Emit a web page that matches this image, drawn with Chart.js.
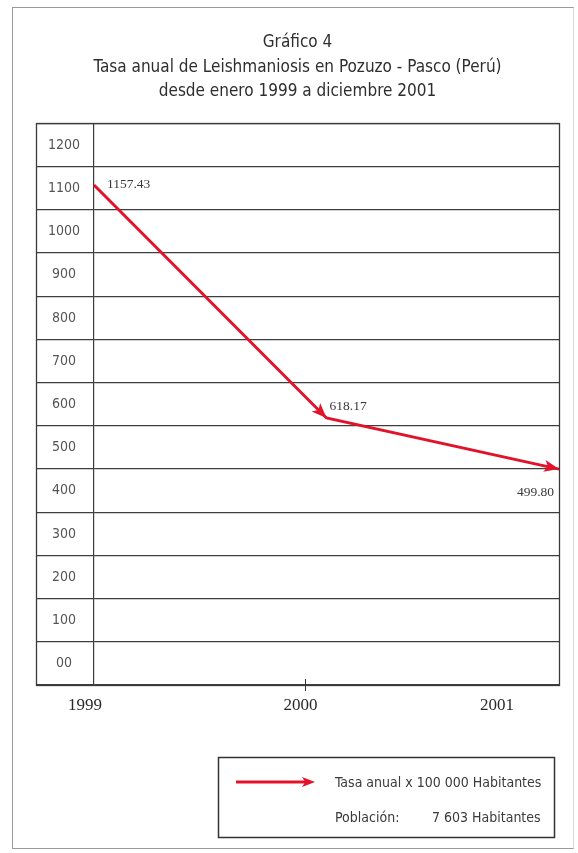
<!DOCTYPE html>
<html>
<head>
<meta charset="utf-8">
<script src="https://cdn.jsdelivr.net/npm/chart.js@4.4.1/dist/chart.umd.min.js"></script>
<style>
  html, body { margin: 0; padding: 0; background: #fff; }
  #wrap { position: relative; width: 578px; height: 853px; }
  #frame { position: absolute; left: 12px; top: 7px; width: 562px; height: 842px;
           border: 1px solid #9a9a9a; border-right-color: #d8d8d8; box-sizing: border-box; }
  canvas { position: absolute; left: 0; top: 0; }
</style>
</head>
<body>
<div id="wrap">
  <div id="frame"></div>
  <canvas id="grafico" width="578" height="853"></canvas>
</div>
<script>
// Tasa anual de leishmaniosis, Pozuzo - Pasco
const years = [1999, 2000, 2001];
const tasa = [1157.43, 618.17, 499.80];
const yearLabels = ['1999', '2000', '2001'];
const yMax = 1300;
const yStep = 100;
const titleLines = [
  'Gráfico 4',
  'Tasa anual de Leishmaniosis en Pozuzo - Pasco (Perú)',
  'desde enero 1999 a diciembre 2001'
];
const serieLabel = 'Tasa anual x 100 000 Habitantes';
const poblacionLabel = 'Población:';
const poblacionValor = '7 603 Habitantes';

const RED = '#e3122b';
const INK = '#3a3a3a';
const NARROW = "'Liberation Sans Narrow', 'DejaVu Sans Condensed', 'Roboto Condensed', 'Liberation Sans', sans-serif";
const SERIF = "'Liberation Serif', 'DejaVu Serif', serif";

// where each value label sits relative to its point
const valueLabelPos = [
  { dx: 13, dy: -1, align: 'left' },
  { dx: 3, dy: -12, align: 'left' },
  { dx: -5, dy: 23, align: 'right' }
];
// horizontal shift of the year labels under the axis
const yearShift = [-9, -26, -62];

function arrowHead(ctx, x0, y0, x1, y1, len, half) {
  const a = Math.atan2(y1 - y0, x1 - x0);
  ctx.save();
  ctx.translate(x1, y1);
  ctx.rotate(a);
  ctx.beginPath();
  ctx.moveTo(0, 0);
  ctx.lineTo(-len, -half);
  ctx.lineTo(-len * 0.75, 0);
  ctx.lineTo(-len, half);
  ctx.closePath();
  ctx.fill();
  ctx.restore();
}

const decorations = {
  id: 'decorations',
  afterDatasetsDraw(chart) {
    const { ctx, chartArea: area, scales: { x, y } } = chart;
    const pts = chart.getDatasetMeta(0).data;

    // table frame: label column + plot area
    ctx.save();
    ctx.strokeStyle = '#3a3a3a';
    ctx.lineWidth = 1.3;
    ctx.strokeRect(Math.round(y.left) + 0.5, Math.round(area.top) + 0.5,
      Math.round(area.right - y.left), Math.round(area.bottom - area.top));
    ctx.restore();

    // arrow heads at the end of every segment
    ctx.save();
    ctx.fillStyle = RED;
    for (let i = 1; i < pts.length; i++) {
      arrowHead(ctx, pts[i - 1].x, pts[i - 1].y, pts[i].x, pts[i].y, 15, 6);
    }
    ctx.restore();

    // value labels
    ctx.save();
    ctx.font = '13.5px ' + SERIF;
    ctx.fillStyle = INK;
    ctx.textBaseline = 'middle';
    pts.forEach((p, i) => {
      const pos = valueLabelPos[i];
      ctx.textAlign = pos.align;
      ctx.fillText(tasa[i].toFixed(2), p.x + pos.dx, p.y + pos.dy);
    });
    ctx.restore();

    // year labels and the small tick under 2000
    ctx.save();
    ctx.font = '17px ' + SERIF;
    ctx.fillStyle = '#2a2a2a';
    ctx.textAlign = 'center';
    ctx.textBaseline = 'middle';
    years.forEach((yr, i) => {
      const px = x.getPixelForValue(yr) + yearShift[i];
      ctx.fillText(yearLabels[i], px, area.bottom + 21);
      if (i > 0 && i < years.length - 1) {
        ctx.strokeStyle = '#333';
        ctx.lineWidth = 1;
        ctx.beginPath();
        ctx.moveTo(Math.round(px) + 4.5, area.bottom - 6);
        ctx.lineTo(Math.round(px) + 4.5, area.bottom + 6);
        ctx.stroke();
      }
    });
    ctx.restore();
  },
  afterDraw(chart) {
    // legend box
    const { ctx } = chart;
    const ds = chart.data.datasets[0];
    ctx.save();
    ctx.strokeStyle = '#333';
    ctx.lineWidth = 1.5;
    ctx.strokeRect(218.5, 757.5, 336, 80);
    ctx.strokeStyle = ds.borderColor;
    ctx.fillStyle = ds.borderColor;
    ctx.lineWidth = 3;
    ctx.beginPath();
    ctx.moveTo(236, 782);
    ctx.lineTo(306, 782);
    ctx.stroke();
    arrowHead(ctx, 236, 782, 315, 782, 13, 5);
    ctx.font = '14px ' + NARROW;
    ctx.fillStyle = INK;
    ctx.textAlign = 'left';
    ctx.textBaseline = 'middle';
    ctx.fillText(ds.label, 335, 783);
    ctx.fillText(poblacionLabel, 335, 818);
    ctx.fillText(poblacionValor, 432, 818);
    ctx.restore();
  }
};

new Chart(document.getElementById('grafico'), {
  type: 'line',
  data: {
    datasets: [{
      label: serieLabel,
      data: years.map((yr, i) => ({ x: yr, y: tasa[i] })),
      borderColor: RED,
      borderWidth: 3,
      pointRadius: 0,
      tension: 0,
      clip: false
    }]
  },
  options: {
    responsive: false,
    animation: false,
    events: [],
    layout: { padding: { left: 36, right: 19, top: 0, bottom: 168 } },
    plugins: {
      legend: { display: false },
      tooltip: { enabled: false },
      title: {
        display: true,
        text: titleLines,
        color: '#2e2e2e',
        font: { family: NARROW, size: 17, weight: 'normal', lineHeight: 1.42 },
        padding: { top: 31, bottom: 20 }
      }
    },
    scales: {
      x: {
        type: 'linear',
        min: years[0],
        max: years[years.length - 1],
        grid: { display: false },
        border: { display: false },
        ticks: { display: false },
        afterFit: s => { s.height = 0; }
      },
      y: {
        min: 0,
        max: yMax,
        grid: { color: '#3e3e3e', lineWidth: 1.2, drawTicks: true, tickLength: 58, tickColor: '#3e3e3e' },
        border: { color: '#3a3a3a', width: 1.2 },
        ticks: {
          stepSize: yStep,
          autoSkip: false,
          color: '#555',
          font: { family: NARROW, size: 14 },
          crossAlign: 'center',
          padding: -44,
          labelOffset: -21.5,
          callback: v => v >= yMax ? '' : (v === 0 ? '00' : String(v))
        },
        afterFit: s => { s.width = 58; }
      }
    }
  },
  plugins: [decorations]
});
</script>
</body>
</html>
